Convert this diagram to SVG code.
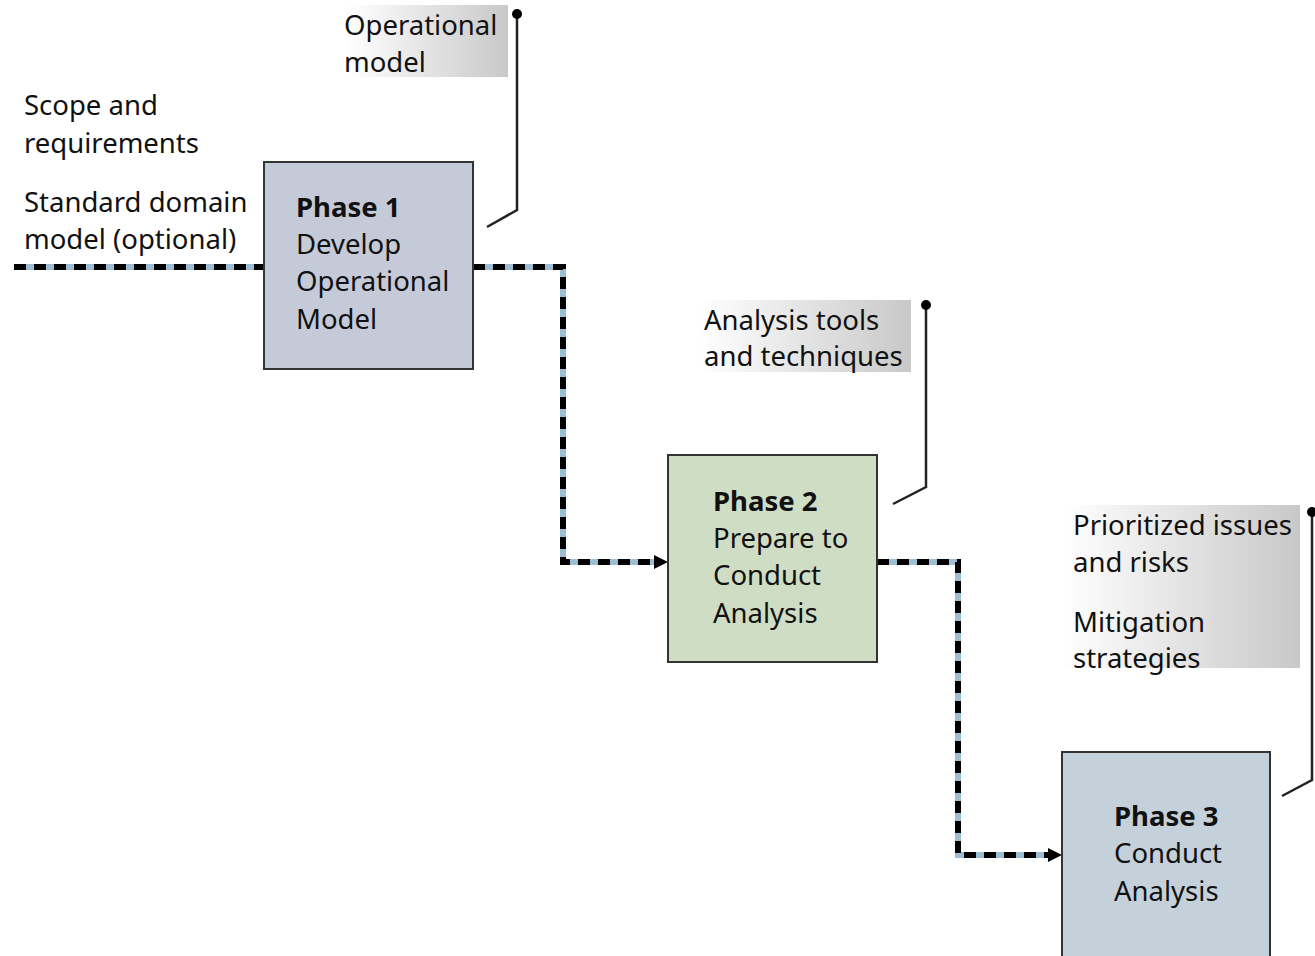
<svg xmlns="http://www.w3.org/2000/svg" width="1315" height="956" viewBox="0 0 1315 956">
  <defs>
    <linearGradient id="noteFill" x1="0" y1="0" x2="1" y2="0">
      <stop offset="0" stop-color="#ffffff"/>
      <stop offset="1" stop-color="#c8c8c8"/>
    </linearGradient>
    <style>
      text { font-family: "Noto Sans", "Open Sans", sans-serif; font-size: 27.5px; fill: #111; }
      .bold { font-weight: bold; }
      .node { stroke: #333; stroke-width: 2; }
      .flow-base { fill: none; stroke: #9dbdd3; stroke-width: 6; }
      .flow-dash { fill: none; stroke: #000; stroke-width: 6; stroke-dasharray: 12 8; }
      .note { fill: url(#noteFill); }
      .leader { fill: none; stroke: #222; stroke-width: 2.5; }
    </style>
  </defs>

  <rect width="1315" height="956" fill="#ffffff"/>

  <!-- flow connectors -->
  <g id="connectors">
    <path class="flow-base" d="M14,267 H264"/>
    <path class="flow-dash" d="M14,267 H264"/>
    <path class="flow-base" d="M473,267 H563 V562 H654"/>
    <path class="flow-dash" d="M473,267 H563 V562 H654"/>
    <path d="M654,555 L668,562 L654,569 Z" fill="#000"/>
    <path class="flow-base" d="M877,562 H958 V855 H1048"/>
    <path class="flow-dash" d="M877,562 H958 V855 H1048"/>
    <path d="M1048,848 L1062,855 L1048,862 Z" fill="#000"/>
  </g>

  <!-- inputs -->
  <g id="inputs">
    <text x="24" y="115">Scope and</text>
    <text x="24" y="153">requirements</text>
    <text x="24" y="212">Standard domain</text>
    <text x="24" y="249">model (optional)</text>
  </g>

  <!-- output notes with leaders -->
  <g id="note-operational-model">
    <rect class="note" x="346" y="5" width="162" height="72"/>
    <text x="344" y="35">Operational</text>
    <text x="344" y="72">model</text>
    <path class="leader" d="M517,14 V210 L487,227"/>
    <circle cx="517" cy="14" r="5" fill="#000"/>
  </g>

  <g id="note-analysis-tools">
    <rect class="note" x="700" y="300" width="211" height="72"/>
    <text x="704" y="330">Analysis tools</text>
    <text x="704" y="366">and techniques</text>
    <path class="leader" d="M926,305 V487 L893,504"/>
    <circle cx="926" cy="305" r="5" fill="#000"/>
  </g>

  <g id="note-issues">
    <rect class="note" x="1062" y="505" width="238" height="163"/>
    <text x="1073" y="535">Prioritized issues</text>
    <text x="1073" y="572">and risks</text>
    <text x="1073" y="632">Mitigation</text>
    <text x="1073" y="668">strategies</text>
    <path class="leader" d="M1312,512 V780 L1282,796"/>
    <circle cx="1312" cy="512" r="5" fill="#000"/>
  </g>

  <!-- phases -->
  <g id="phase1">
    <rect class="node" x="264" y="162" width="209" height="207" fill="#c5cad9"/>
    <text class="bold" x="296" y="217">Phase 1</text>
    <text x="296" y="254">Develop</text>
    <text x="296" y="291">Operational</text>
    <text x="296" y="329">Model</text>
  </g>

  <g id="phase2">
    <rect class="node" x="668" y="455" width="209" height="207" fill="#d0ddc5"/>
    <text class="bold" x="713" y="511">Phase 2</text>
    <text x="713" y="548">Prepare to</text>
    <text x="713" y="585">Conduct</text>
    <text x="713" y="623">Analysis</text>
  </g>

  <g id="phase3">
    <rect class="node" x="1062" y="752" width="208" height="220" fill="#c4d1db"/>
    <text class="bold" x="1114" y="826">Phase 3</text>
    <text x="1114" y="863">Conduct</text>
    <text x="1114" y="901">Analysis</text>
  </g>
</svg>
